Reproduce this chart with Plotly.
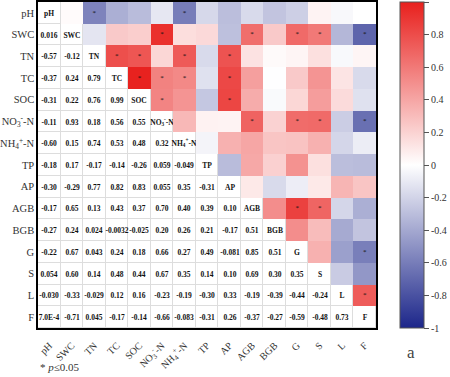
import numpy as np
import plotly.graph_objects as go

labels = ["pH", "SWC", "TN", "TC", "SOC", "NO<sub>3</sub><sup>-</sup>-N", "NH<sub>4</sub><sup>+</sup>-N",
          "TP", "AP", "AGB", "BGB", "G", "S", "L", "F"]

# lower-triangle correlation values, row by row
lower_rows = [
    [],
    [0.016],
    [-0.57, -0.12],
    [-0.37, 0.24, 0.79],
    [-0.31, 0.22, 0.76, 0.99],
    [-0.11, 0.93, 0.18, 0.56, 0.55],
    [-0.60, 0.15, 0.74, 0.53, 0.48, 0.32],
    [-0.18, 0.17, -0.17, -0.14, -0.26, 0.059, -0.049],
    [-0.30, -0.29, 0.77, 0.82, 0.83, 0.055, 0.35, -0.31],
    [-0.17, 0.65, 0.13, 0.43, 0.37, 0.70, 0.40, 0.39, 0.10],
    [-0.27, 0.24, 0.024, -0.0032, -0.025, 0.20, 0.26, 0.21, -0.17, 0.51],
    [-0.22, 0.67, 0.043, 0.24, 0.18, 0.66, 0.27, 0.49, -0.081, 0.85, 0.51],
    [0.054, 0.60, 0.14, 0.48, 0.44, 0.67, 0.35, 0.14, 0.10, 0.69, 0.30, 0.35],
    [-0.030, -0.33, -0.029, 0.12, 0.16, -0.23, -0.19, -0.30, 0.33, -0.19, -0.39, -0.44, -0.24],
    [7.0e-4, -0.71, 0.045, -0.17, -0.14, -0.66, -0.083, -0.31, 0.26, -0.37, -0.27, -0.59, -0.48, 0.73],
]
sig_threshold = 0.52

n = len(labels)
R = np.eye(n)
for i, row in enumerate(lower_rows):
    for j, v in enumerate(row):
        R[i, j] = v
        R[j, i] = v


def fmt(v):
    if abs(v) < 0.001:
        return f"{v:.1E}".replace("E-0", "E-")
    return format(v, "#.2g")


idx = list(range(n))
z_upper = np.full((n, n), np.nan)
z_lower = np.full((n, n), np.nan)
text_lower = [["" for _ in range(n)] for _ in range(n)]
for i in range(n):
    for j in range(n):
        if j > i:
            z_upper[i, j] = R[i, j]
        else:
            z_lower[i, j] = 0
            text_lower[i][j] = "<b>" + (labels[j] if i == j else fmt(R[i, j])) + "</b>"

sx, sy = [], []
for i in range(n):
    for j in range(i + 1, n):
        if abs(R[i, j]) >= sig_threshold:
            sx.append(j)
            sy.append(i)

font_serif = "Liberation Serif"

fig = go.Figure()
fig.add_trace(go.Heatmap(
    x=idx, y=idx, z=z_lower, text=text_lower, texttemplate="%{text}",
    textfont=dict(family=font_serif, size=7.5, color="#111111"),
    colorscale=[[0, "#ffffff"], [1, "#ffffff"]], showscale=False,
    xgap=1, ygap=1, hoverinfo="skip"))
fig.add_trace(go.Heatmap(
    x=idx, y=idx, z=z_upper, zmin=-1, zmax=1,
    colorscale=[[0, "#1c268a"], [0.5, "#ffffff"], [1, "#e8201d"]],
    colorbar=dict(x=(402 - 38) / 340, xanchor="left", y=0.5, yanchor="middle",
                  len=1.0, lenmode="fraction", thickness=24, xpad=0, ypad=0,
                  outlinecolor="#555555", outlinewidth=1,
                  tickvals=[-1, -0.8, -0.6, -0.4, -0.2, 0, 0.2, 0.4, 0.6, 0.8, 1],
                  ticktext=["-1", "-0.8", "-0.6", "-0.4", "-0.2", "0", "0.2", "0.4", "0.6", "0.8", "1"],
                  ticks="outside", ticklen=5, tickcolor="#555555",
                  tickfont=dict(family=font_serif, size=10, color="#333333")),
    hoverinfo="skip"))
fig.add_trace(go.Scatter(
    x=sx, y=sy, mode="text", text=["*"] * len(sx),
    textfont=dict(family=font_serif, size=7, color="#111111"),
    textposition="middle center", showlegend=False, hoverinfo="skip"))

fig.update_xaxes(range=[-0.5, n - 0.5], tickvals=idx, ticktext=labels, tickangle=-45,
                 showgrid=False, zeroline=False, showline=True, linecolor="black",
                 linewidth=1.5, mirror=True, ticks="outside", ticklen=6, tickcolor="rgba(0,0,0,0)",
                 automargin=False,
                 tickfont=dict(family=font_serif, size=10, color="#333333"))
fig.update_yaxes(range=[n - 0.5, -0.5], tickvals=idx, ticktext=labels,
                 showgrid=False, zeroline=False, showline=True, linecolor="black",
                 linewidth=1.5, mirror=True, ticks="", automargin=False,
                 tickfont=dict(family=font_serif, size=10.5, color="#333333"))

fig.add_annotation(text="a", xref="paper", yref="paper", x=(413 - 38) / 340, y=-(352 - 328) / 326,
                   showarrow=False, font=dict(family=font_serif, size=17, color="#444444"),
                   xanchor="center", yanchor="middle")
fig.add_annotation(text="* <i>p</i>≤0.05", xref="paper", yref="paper", x=(38 - 38) / 340,
                   y=-(367 - 328) / 326, showarrow=False,
                   font=dict(family=font_serif, size=11, color="#333333"),
                   xanchor="left", yanchor="middle")

fig.update_layout(width=450, height=377, margin=dict(l=38, r=72, t=2, b=49),
                  paper_bgcolor="white", plot_bgcolor="#dddddd", showlegend=False)

fig.write_html("out.html", config={"displayModeBar": False},
               post_script="document.body.style.margin='0';document.body.style.overflow='hidden';")
